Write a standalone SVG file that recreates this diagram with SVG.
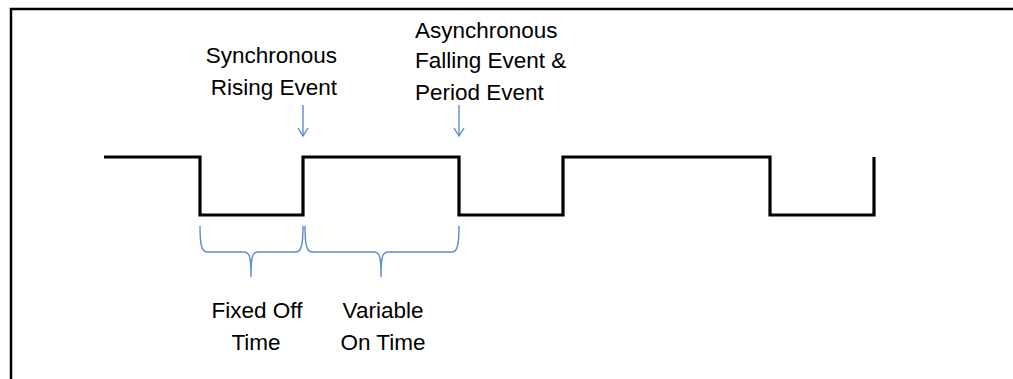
<svg xmlns="http://www.w3.org/2000/svg" width="1013" height="379" viewBox="0 0 1013 379">
<style>
.frame{fill:none;stroke:#000;stroke-width:2.5}
.wave{fill:none;stroke:#000;stroke-width:3.2;stroke-linejoin:miter}
.blue{fill:none;stroke:#5a8ccb;stroke-width:1.4}
text{font-family:"Liberation Sans",Arial,sans-serif;font-size:22.5px;fill:#000}
</style>
<defs>
<marker id="ah" viewBox="0 0 10 12" refX="9" refY="6" markerWidth="10" markerHeight="12" markerUnits="userSpaceOnUse" orient="auto">
<path d="M1,1 L9,6 L1,11" fill="none" stroke="#5a8ccb" stroke-width="1.4"/>
</marker>
</defs>
<path class="frame" d="M11,379 V9 H1013"/>
<g id="waveform">
<path class="wave" d="M104,157 H200 V215 H303 V157 H459 V215 H563 V157 H770 V215 H874 V157"/>
</g>
<g id="connectors">
<line class="blue" x1="303" y1="105" x2="303" y2="136" marker-end="url(#ah)"/>
<line class="blue" x1="459" y1="105" x2="459" y2="136" marker-end="url(#ah)"/>
<path class="blue" d="M200,226 C200,242 201,252 207,252 H244 C250,252 251,258 251,277 C251,258 252,252 258,252 H296 C302,252 303,242 303,226"/>
<path class="blue" d="M305,226 C305,242 306,252 312,252 H374 C380,252 381,258 381,277 C381,258 382,252 388,252 H452 C458,252 459,242 459,226"/>
</g>
<g id="label-sync">
<text x="337" y="63" text-anchor="end">Synchronous</text>
<text x="337" y="95" text-anchor="end">Rising Event</text>
</g>
<g id="label-async">
<text x="415" y="38">Asynchronous</text>
<text x="415" y="68">Falling Event &amp;</text>
<text x="415" y="100">Period Event</text>
</g>
<g id="label-off">
<text x="257" y="318" text-anchor="middle">Fixed Off</text>
<text x="256" y="350" text-anchor="middle">Time</text>
</g>
<g id="label-on">
<text x="383" y="318" text-anchor="middle">Variable</text>
<text x="383" y="350" text-anchor="middle">On Time</text>
</g>
</svg>
